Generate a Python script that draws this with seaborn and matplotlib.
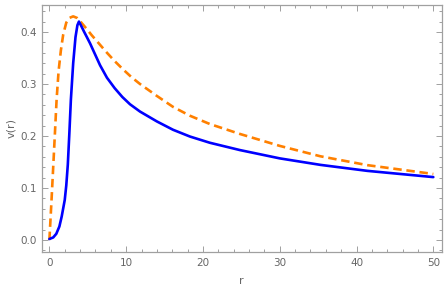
import numpy as np
import pandas as pd
import matplotlib
matplotlib.use("Agg")
import matplotlib.pyplot as plt
from matplotlib.ticker import MultipleLocator
import seaborn as sns

# Data
blue_r = [0, 0.5, 0.9, 1.3, 1.6, 2.0, 2.2, 2.4, 2.6, 2.8, 3.1, 3.4, 3.65, 3.85,
          4.1, 4.5, 4.85, 5.3, 5.7, 6.6, 7.5, 8.5, 9.5, 10.5, 11.8, 14.0, 16.1,
          18.3, 20.9, 24.8, 30.0, 35.3, 41.4, 50]
blue_v = [0.002, 0.005, 0.012, 0.026, 0.045, 0.077, 0.105, 0.145, 0.205, 0.27,
          0.34, 0.39, 0.413, 0.42, 0.413, 0.401, 0.391, 0.378, 0.365, 0.336,
          0.312, 0.292, 0.275, 0.261, 0.247, 0.228, 0.212, 0.199, 0.187,
          0.173, 0.157, 0.1445, 0.133, 0.121]

orange_r = [0, 0.28, 0.5, 0.72, 0.94, 1.2, 1.5, 1.8, 2.2, 2.6, 3.1, 3.6, 4.1,
            4.85, 5.5, 6.5, 7.5, 8.5, 9.6, 10.7, 11.8, 14.0, 16.1, 18.3, 20.9,
            24.8, 30.0, 35.3, 41.4, 50]
orange_v = [0.0, 0.077, 0.141, 0.205, 0.27, 0.325, 0.365, 0.395, 0.418, 0.427,
            0.43, 0.427, 0.419, 0.406, 0.394, 0.377, 0.360, 0.344, 0.328, 0.313,
            0.300, 0.277, 0.256, 0.239, 0.223, 0.204, 0.181, 0.161, 0.144,
            0.127]

x_ticks = [0, 10, 20, 30, 40, 50]
y_ticks = [0.0, 0.1, 0.2, 0.3, 0.4]

df_blue = pd.DataFrame({"r": blue_r, "v": blue_v})
df_orange = pd.DataFrame({"r": orange_r, "v": orange_v})

sns.set_style("ticks")
plt.rcParams["font.family"] = ["DejaVu Sans"]

fig = plt.figure(figsize=(4.47, 2.91), dpi=100)
ax = fig.add_axes([0.0933, 0.134, 0.895, 0.850])

sns.lineplot(data=df_orange, x="r", y="v", ax=ax, color="#FF8000",
             linewidth=1.9, linestyle=(0, (3.2, 1.8)), sort=False, zorder=3)
sns.lineplot(data=df_blue, x="r", y="v", ax=ax, color="#0000FF",
             linewidth=1.9, sort=False, zorder=4)

ax.set_xlim(-1.0, 51.1)
ax.set_ylim(-0.023, 0.4525)
ax.set_xticks(x_ticks)
ax.set_yticks(y_ticks)
ax.set_xticklabels([str(t) for t in x_ticks])
ax.set_yticklabels([f"{t:.1f}" for t in y_ticks])
ax.xaxis.set_minor_locator(MultipleLocator(2))
ax.yaxis.set_minor_locator(MultipleLocator(0.02))

frame_col = "#A0A0A0"
for s in ax.spines.values():
    s.set_visible(True)
    s.set_color(frame_col)
    s.set_linewidth(0.9)

ax.tick_params(which="both", direction="in", top=True, right=True,
               color=frame_col, width=0.7, labelsize=7.5, labelcolor="#666666")
ax.tick_params(which="major", length=4)
ax.tick_params(which="minor", length=2.2)
ax.tick_params(axis="x", pad=4)

ax.set_xlabel("r", fontsize=8, color="#666666", labelpad=6)
ax.set_ylabel("v(r)", fontsize=8, color="#666666", labelpad=3)

fig.savefig("out.png", dpi=100)
